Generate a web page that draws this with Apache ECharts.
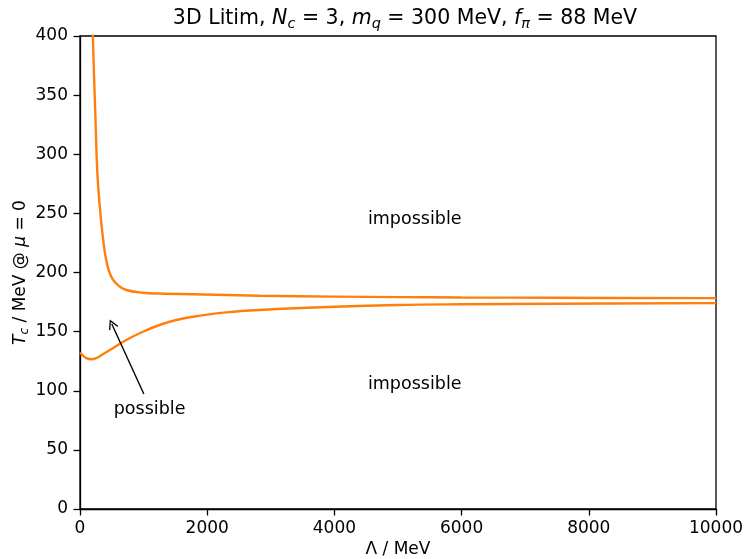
<!DOCTYPE html>
<html>
<head>
<meta charset="utf-8">
<script src="https://cdn.jsdelivr.net/npm/echarts@6/dist/echarts.min.js"></script>
<style>html,body{margin:0;padding:0;background:#fff;}#c{width:747px;height:559px;}</style>
</head>
<body>
<div id="c"></div>
<script>
// Upper branch (Lambda in MeV, T_c in MeV)
const upperLambda = [185, 202, 218, 244, 270, 307, 359, 412, 491, 595, 727, 988, 1251, 1775, 2825, 4000, 5000, 6000, 7500, 10000];
const upperT      = [425, 400, 371, 329, 287, 258.5, 230.3, 210.6, 196.5, 189.4, 185.2, 182.9, 182.2, 181.6, 180.4, 179.6, 179.2, 178.9, 178.6, 178.3];
// Lower branch
const lowerLambda = [0, 50, 110, 176, 255, 359, 516, 727, 988, 1251, 1513, 1775, 2300, 2825, 4000, 5000, 6000, 7500, 10000];
const lowerT      = [132.3, 129.6, 127.3, 126.6, 127.6, 130.8, 135.9, 142.9, 149.9, 155.6, 159.8, 162.6, 166.3, 168.3, 171.0, 172.5, 173.1, 173.6, 174.1];
// Annotations
const arrowFrom = [1004, 97.3];
const arrowTo = [500, 156.4];
const possibleAt = [1094, 84.6];
const impossibleUpperAt = [5263, 245];
const impossibleLowerAt = [5263, 105];

const FONT = 'DejaVu Sans';
const ORANGE = '#ff7f0e';
const toPairs = (xs, ys) => xs.map((x, i) => [x, ys[i]]);

const chart = echarts.init(document.getElementById('c'), null, {renderer: 'canvas'});
const richMath = {
  i: {fontFamily: FONT, fontStyle: 'italic', fontSize: 20.5, color: '#000'},
  s: {fontFamily: FONT, fontStyle: 'italic', fontSize: 14.5, color: '#000', padding: [11, 0, 0, 0]},
  n: {fontFamily: FONT, fontSize: 20.5, color: '#000'}
};
const richAxis = {
  i: {fontFamily: FONT, fontStyle: 'italic', fontSize: 17, color: '#000'},
  s: {fontFamily: FONT, fontStyle: 'italic', fontSize: 12, color: '#000', padding: [9, 0, 0, 0]},
  n: {fontFamily: FONT, fontSize: 17, color: '#000'}
};
const textMark = (pos, txt) => ({
  coord: pos, symbol: 'circle', symbolSize: 0.01,
  label: {show: true, position: 'inside', formatter: txt, fontFamily: FONT, fontSize: 17.5, color: '#000'}
});

chart.setOption({
  animation: false,
  backgroundColor: '#fff',
  title: {
    text: '{n|3D Litim, }{i|N}{s|c}{n| = 3, }{i|m}{s|q}{n| = 300 MeV, }{i|f}{s|π}{n| = 88 MeV}',
    left: 400, top: 1, textAlign: 'center',
    textStyle: {fontFamily: FONT, fontSize: 20.5, fontWeight: 'normal', color: '#000', rich: richMath}
  },
  grid: {left: 80, right: 31, top: 36, bottom: 50, show: true, borderColor: '#000', borderWidth: 1.3,
         containLabel: false, outerBoundsMode: 'none'},
  xAxis: {
    type: 'value', min: 0, max: 10000, interval: 2000,
    name: 'Λ / MeV', nameLocation: 'middle', nameGap: 32, nameMoveOverlap: false,
    nameTextStyle: {fontFamily: FONT, fontSize: 17, color: '#000'},
    axisLine: {lineStyle: {color: '#000', width: 1.3}},
    axisTick: {length: 6.5, lineStyle: {color: '#000', width: 1.3}},
    axisLabel: {margin: 11, fontFamily: FONT, fontSize: 17, color: '#000', formatter: v => String(v)},
    splitLine: {show: false}
  },
  yAxis: {
    type: 'value', min: 0, max: 400, interval: 50,
    name: '{i|T}{s|c}{n| / MeV @ }{i|μ}{n| = 0}', nameLocation: 'middle', nameGap: 49, nameRotate: 90,
    nameMoveOverlap: false,
    nameTextStyle: {fontFamily: FONT, fontSize: 17, color: '#000', rich: richAxis},
    axisLine: {lineStyle: {color: '#000', width: 1.3}},
    axisTick: {length: 6.5, lineStyle: {color: '#000', width: 1.3}},
    axisLabel: {margin: 12, fontFamily: FONT, fontSize: 17, color: '#000', formatter: v => String(v)},
    splitLine: {show: false}
  },
  series: [
    {
      type: 'line', data: toPairs(upperLambda, upperT), smooth: 0.4,
      showSymbol: false, clip: true, lineStyle: {color: ORANGE, width: 2.4}, itemStyle: {color: ORANGE},
      markPoint: {silent: true, data: [textMark(impossibleUpperAt, 'impossible'), textMark(impossibleLowerAt, 'impossible'), textMark(possibleAt, 'possible')]}
    },
    {
      type: 'line', data: toPairs(lowerLambda, lowerT), smooth: 0.4,
      showSymbol: false, clip: true, lineStyle: {color: ORANGE, width: 2.4}, itemStyle: {color: ORANGE},
      markLine: {
        silent: true, animation: false,
        symbol: ['none', 'path://M0,0 L5,9 L3.9,9.7 L0,2.6 L-3.9,9.7 L-5,9 Z'], symbolSize: [10, 10],
        label: {show: false},
        lineStyle: {color: '#000', width: 1.4, type: 'solid'},
        data: [[{coord: arrowFrom}, {coord: arrowTo}]]
      }
    }
  ]
});
</script>
</body>
</html>
